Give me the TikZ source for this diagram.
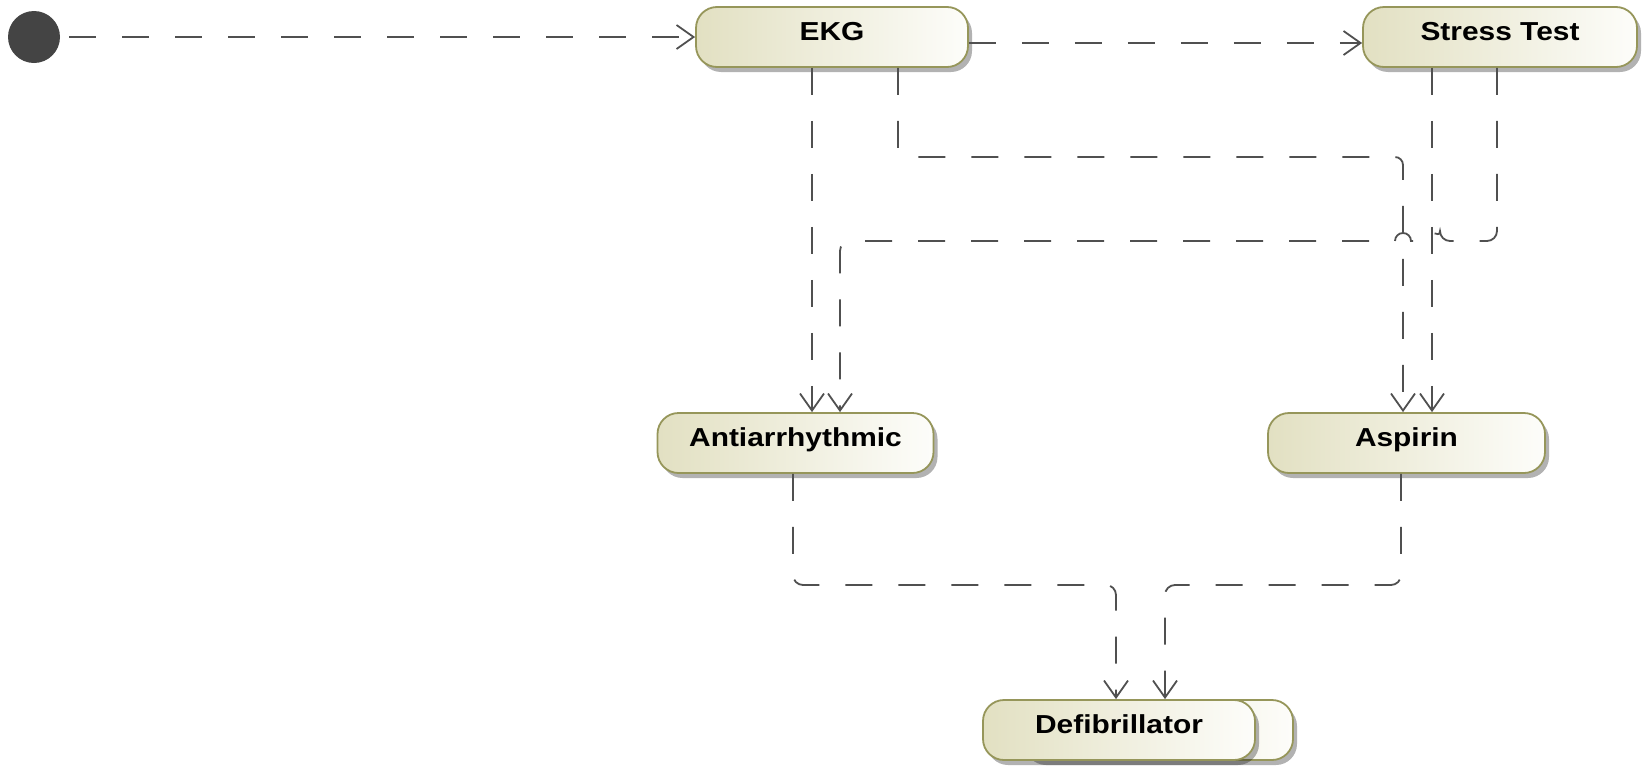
\documentclass[tikz,border=0pt]{standalone}
\usepackage{fontspec}
\setmainfont{Liberation Sans}[FakeStretch=1.15]
\usetikzlibrary{arrows.meta,shadows}

\definecolor{actborder}{RGB}{150,150,90}
\definecolor{actleft}{RGB}{226,224,194}
\definecolor{actright}{RGB}{253,253,250}
\definecolor{flowc}{RGB}{80,80,80}
\definecolor{initfill}{RGB}{68,68,68}

\tikzset{
  action/.style={draw=actborder, line width=1.8pt, rounded corners=21pt,
    left color=actleft, right color=actright,
    minimum height=60pt, inner sep=0pt, text height=18pt, text depth=11pt,
    font=\fontsize{26}{30}\selectfont\bfseries,
    drop shadow={shadow xshift=4pt, shadow yshift=-5pt, fill=black, opacity=0.3}},
  flowline/.style={draw=flowc, line width=1.8pt, dash pattern=on 27pt off 26pt,
    -{Straight Barb[length=17pt,width=24pt,line width=1.8pt]}},
  initial/.style={circle, fill=initfill, minimum size=52pt, inner sep=0pt}
}

\begin{document}
\begin{tikzpicture}[x=1pt, y=-1pt]
\useasboundingbox (0,0) rectangle (1642,766);

% start node
\node[initial] (init) at (34,37) {};

% actions
\node[action, minimum width=272pt] (ekg) at (832,37) {EKG};
\node[action, minimum width=274pt] (stress) at (1500,37) {Stress Test};
\node[action, minimum width=276pt] (anti) at (795.5,443) {Antiarrhythmic};
\node[action, minimum width=277pt] (asp) at (1406.5,443) {Aspirin};
% multiple-instance action: stacked copy behind the front shape
\node[action, minimum width=272pt] (defibback) at (1157,730) {};
\node[action, minimum width=272pt] (defib) at (1119,730) {Defibrillator};

% control flows
\draw[flowline, shorten <=9pt] (init) -- (ekg.west);
\draw[flowline] ([yshift=-6pt]ekg.east) -- ([yshift=-6pt]stress.west);
\draw[flowline] ([xshift=-20pt]ekg.south) -- ([xshift=-20pt]ekg.south |- anti.north);
\draw[flowline, rounded corners=8pt] ([xshift=66pt]ekg.south) |- (1403,157)
  -- ([xshift=-3.5pt]asp.north);
\draw[flowline] ([xshift=-68pt]stress.south) -- ([xshift=-68pt]stress.south |- asp.north);
\draw[flowline, rounded corners=10pt] ([xshift=-3pt]stress.south) -- (1497,241)
  -- (1440,241) [sharp corners] arc[start angle=0, end angle=180, radius=8pt]
  -- (1411,241) arc[start angle=0, end angle=180, radius=8pt]
  [rounded corners=10pt] -- (840,241) -- ([xshift=44.5pt]anti.north);
\draw[flowline, rounded corners=10pt] ([xshift=-2.5pt]anti.south) |- (1116,585)
  -- ([xshift=-3pt]defib.north);
\draw[flowline, rounded corners=10pt] ([xshift=-5.5pt]asp.south) |- (1165,585)
  -- ([xshift=46pt]defib.north);
\end{tikzpicture}
\end{document}
